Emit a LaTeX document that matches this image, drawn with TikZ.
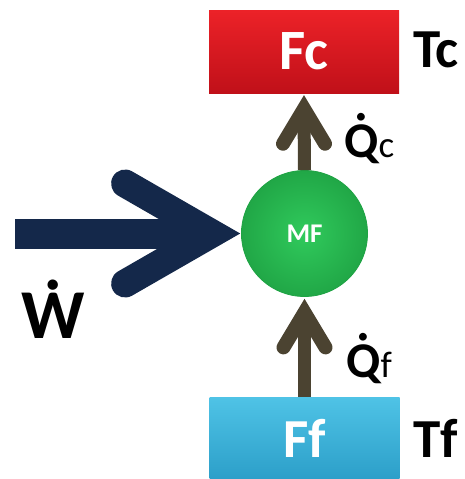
\documentclass[tikz,border=0pt]{standalone}
\usepackage{fontspec}
\setmainfont{Carlito}
\usetikzlibrary{calc}

\definecolor{hotred}{HTML}{EC2228}
\definecolor{hotreddark}{HTML}{C01019}
\definecolor{coldcyan}{HTML}{4FC3E6}
\definecolor{coldcyandark}{HTML}{2C9FC9}
\definecolor{mfgreen}{HTML}{30CA5C}
\definecolor{mfgreendark}{HTML}{1FA344}
\definecolor{heatbrown}{HTML}{4B4331}
\definecolor{worknavy}{HTML}{14284A}

\tikzset{
  reservoir/.style={rectangle, minimum width=190pt, minimum height=83pt,
    inner sep=0pt, text=white, font=\fontsize{57}{57}\selectfont\bfseries},
  machine/.style={circle, minimum size=126pt, inner sep=0pt, text=white,
    inner color=mfgreen, outer color=mfgreendark!90!mfgreen,
    draw=mfgreendark, line width=0.8pt,
    font=\fontsize{27}{27}\selectfont\bfseries},
  templabel/.style={anchor=base west, inner sep=0pt,
    font=\fontsize{55}{55}\selectfont\bfseries},
  flowlabel/.style={anchor=base west, inner sep=0pt,
    font=\fontsize{50}{50}\selectfont\bfseries},
  heatshaft/.style={draw=heatbrown, line width=13pt},
  heathead/.style={draw=heatbrown, line width=14pt, line cap=round, line join=miter},
  workshaft/.style={draw=worknavy, line width=30pt},
  workhead/.style={draw=worknavy, line width=28pt, line cap=round, line join=miter}
}

% flujo con punto encima (derivada temporal)
\newcommand{\flux}[1]{\accent"02D9 #1}
\newcommand{\subsm}[1]{{\fontsize{37}{37}\selectfont\mdseries #1}}

\begin{document}
\begin{tikzpicture}[x=1pt, y=-1pt]
    \useasboundingbox (0,0) rectangle (465,479);

    % Focos caliente y frio, y la maquina
    \node[reservoir, top color=hotred, bottom color=hotreddark] (fc) at (304,51.5) {Fc};
    \node[reservoir, top color=coldcyan, bottom color=coldcyandark,
          minimum height=82pt, font=\fontsize{55}{55}\selectfont\bfseries] (ff) at (304.5,438) {Ff};
    \node[machine] (mf) at (304.5,233.5) {MF};

    % Temperaturas
    \node[templabel] (tc) at (413,67) {Tc};
    \node[templabel] (tf) at (413,457) {Tf};

    % Calor cedido al foco caliente
    \draw[heatshaft] (mf.north) -- ($(fc.south)+(0,15.5)$);
    \draw[heathead] ($(fc.south)+(-21,50.5)$) -- ($(fc.south)+(0,15.5)$) -- ($(fc.south)+(21,50.5)$);
    \node[flowlabel] (qc) at (344,157) {\flux{Q}\subsm{c}};

    % Calor tomado del foco frio
    \draw[heatshaft] (ff.north) -- ($(mf.south)+(0,15.5)$);
    \draw[heathead] ($(mf.south)+(-21,50.5)$) -- ($(mf.south)+(0,15.5)$) -- ($(mf.south)+(21,50.5)$);
    \node[flowlabel] (qf) at (346,377) {\flux{Q}\subsm{f}};

    % Trabajo
    \coordinate (wsrc) at (15,233.5);
    \draw[workshaft] (wsrc) -- ($(mf.west)+(-29,0)$);
    \draw[workhead] ($(mf.west)+(-116,-50)$) -- ($(mf.west)+(-29,0)$) -- ($(mf.west)+(-116,50)$);
    \node[anchor=base west, inner sep=0pt, font=\fontsize{70}{70}\selectfont\bfseries] (w) at (21,338) {Ẇ};
\end{tikzpicture}
\end{document}
